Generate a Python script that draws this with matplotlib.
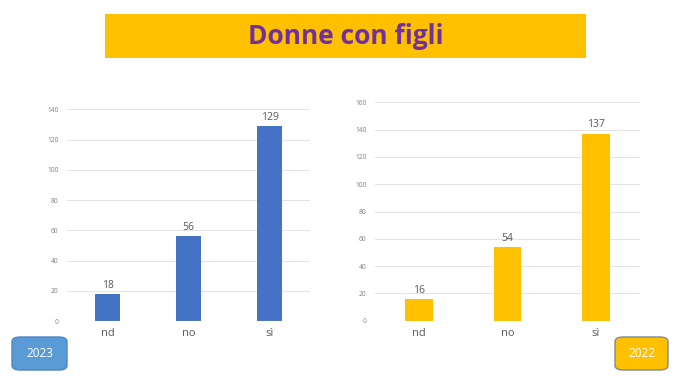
import matplotlib.pyplot as plt
from matplotlib.patches import FancyBboxPatch, Rectangle

categorie = ["nd", "no", "sì"]
valori_2023 = [18, 56, 129]
valori_2022 = [16, 54, 137]
tick_2023 = [0, 20, 40, 60, 80, 100, 120, 140]
tick_2022 = [0, 20, 40, 60, 80, 100, 120, 140, 160]

BLU = "#4472C4"
GIALLO = "#FFC000"
GRIGIO = "#595959"

plt.rcParams["font.family"] = ["Open Sans", "DejaVu Sans"]

fig = plt.figure(figsize=(6.8, 3.83), dpi=100)
W, H = 680, 383


def px(x0, y0, x1, y1):
    # converte coordinate pixel (origine in alto) in frazioni della figura
    return [x0 / W, 1 - y1 / H, (x1 - x0) / W, (y1 - y0) / H]


def grafico(rect, valori, ticks, colore):
    ax = fig.add_axes(rect)
    x = range(len(categorie))
    ax.bar(x, valori, width=0.31, color=colore, zorder=3)
    for xi, v in zip(x, valori):
        ax.text(xi, v + ticks[-1] * 0.015, str(v), ha="center", va="bottom",
                fontsize=7.5, color=GRIGIO)
    ax.set_ylim(0, ticks[-1])
    ax.set_xlim(-0.5, len(categorie) - 0.5)
    ax.set_yticks(ticks)
    ax.set_xticks(list(x))
    ax.set_xticklabels(categorie)
    ax.tick_params(axis="y", length=0, labelsize=4.8, labelcolor="#7F7F7F", pad=6)
    ax.tick_params(axis="x", length=0, labelsize=8, labelcolor=GRIGIO, pad=5)
    ax.grid(axis="y", color="#E3E3E3", linewidth=0.7, zorder=0)
    for s in ax.spines.values():
        s.set_visible(False)
    ax.axhline(0, color="#D9D9D9", linewidth=0.8, zorder=4)
    return ax


grafico(px(67, 109.3, 310, 321), valori_2023, tick_2023, BLU)
grafico(px(375, 102.3, 640, 320.7), valori_2022, tick_2022, GIALLO)

# banner del titolo
fig.patches.append(Rectangle((105 / W, 1 - 58 / H), 481 / W, 44 / H,
                             transform=fig.transFigure, facecolor=GIALLO,
                             edgecolor="none"))
fig.text(345.5 / W, 1 - 36 / H, "Donne con figli", ha="center", va="center",
         fontsize=19, fontweight="bold", color="#7030A0")

# etichette degli anni
for (x0, x1), testo, col, bordo in [((12, 67), "2023", "#5B9BD5", "#4A86C5"),
                                    ((615, 668), "2022", GIALLO, "#7A8A99")]:
    box = FancyBboxPatch((x0 / W, 1 - 370 / H), (x1 - x0) / W, 33 / H,
                         boxstyle="round,pad=0,rounding_size=0.012",
                         transform=fig.transFigure, facecolor=col,
                         edgecolor=bordo, linewidth=1)
    fig.patches.append(box)
    fig.text((x0 + x1) / 2 / W, 1 - 353.5 / H, testo, ha="center", va="center",
             fontsize=8.5, color="white")

fig.savefig("out.png", dpi=100)
